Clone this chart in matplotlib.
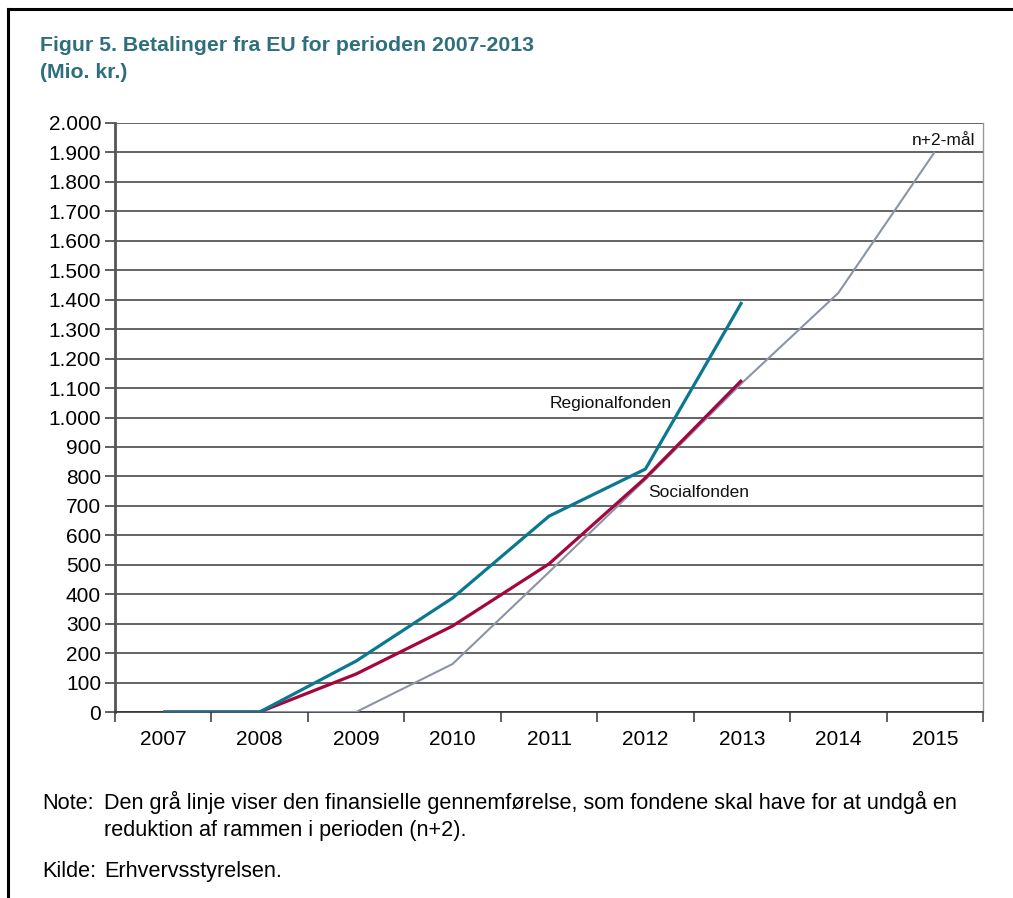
import matplotlib
matplotlib.use("Agg")
import matplotlib.pyplot as plt
from matplotlib.lines import Line2D
import numpy as np

years = ["2007", "2008", "2009", "2010", "2011", "2012", "2013", "2014", "2015"]
regional = [0, 0, 173, 387, 665, 825, 1392, np.nan, np.nan]
social = [0, 0, 129, 292, 503, 795, 1127, np.nan, np.nan]
n2_target = [0, 0, 0, 163, 475, 790, 1117, 1423, 1902]
yticks = list(range(0, 2001, 100))

title = "Figur 5. Betalinger fra EU for perioden 2007-2013\n(Mio. kr.)"
note1 = "Den grå linje viser den finansielle gennemførelse, som fondene skal have for at undgå en"
note2 = "reduktion af rammen i perioden (n+2)."
source = "Erhvervsstyrelsen."

plt.rcParams['font.family'] = ['Liberation Sans', 'DejaVu Sans']

W, H = 1013, 898
fig = plt.figure(figsize=(W / 100, H / 100), dpi=100)
ax = fig.add_axes([115 / W, (H - 712) / H, (983 - 115) / W, (712 - 123) / H])

x = np.arange(len(years))
c_reg = "#0B7891"
c_soc = "#A3073D"
c_gray = "#8B94A6"

ax.plot(x, n2_target, color=c_gray, lw=1.5, zorder=3, solid_capstyle='butt')
ax.plot(x, social, color=c_soc, lw=2.3, zorder=4, solid_capstyle='butt')
ax.plot(x, regional, color=c_reg, lw=2.3, zorder=5, solid_capstyle='butt')

ax.set_xlim(-0.5, len(years) - 0.5)
ax.set_ylim(0, 2000)
ax.set_yticks(yticks)
ax.set_yticklabels([f"{v:,}".replace(",", ".") for v in yticks], fontsize=15)
ax.set_xticks(x)
ax.set_xticklabels(years, fontsize=15)
ax.set_xticks(np.arange(-0.5, len(years), 1.0), minor=True)
ax.tick_params(axis='x', which='major', length=0, pad=13)
ax.tick_params(axis='x', which='minor', length=7, width=1.2, color="#444444", direction='out')
ax.tick_params(axis='y', which='major', length=7, width=1.2, color="#444444", direction='out', pad=3)

ax.grid(axis='y', color="#3a3a3a", lw=1.1, zorder=1)
ax.set_axisbelow(True)
ax.spines['top'].set_visible(False)
ax.spines['left'].set_color("#555555")
ax.spines['left'].set_linewidth(2.0)
ax.spines['bottom'].set_color("#333333")
ax.spines['bottom'].set_linewidth(1.2)
ax.spines['right'].set_color("#999999")
ax.spines['right'].set_linewidth(1.0)

ax.text(5.27, 1046, "Regionalfonden", fontsize=12.5, ha='right', va='center', color="#111111")
ax.text(5.03, 746, "Socialfonden", fontsize=12.5, ha='left', va='center', color="#111111")
ax.text(8.42, 1940, "n+2-mål", fontsize=12.5, ha='right', va='center', color="#111111",
        bbox=dict(facecolor='white', edgecolor='none', pad=1))

fig.text(40 / W, 1 - 36 / H, title, fontsize=15.3, fontweight='bold', color="#2E6F7D",
         ha='left', va='top', linespacing=1.5)

fs_note = 15.6
fig.text(42 / W, 1 - 809 / H, "Note:", fontsize=fs_note, ha='left', va='baseline')
fig.text(104 / W, 1 - 809 / H, note1, fontsize=fs_note, ha='left', va='baseline')
fig.text(104 / W, 1 - 836 / H, note2, fontsize=fs_note, ha='left', va='baseline')
fig.text(42 / W, 1 - 877 / H, "Kilde:", fontsize=fs_note, ha='left', va='baseline')
fig.text(104 / W, 1 - 877 / H, source, fontsize=fs_note, ha='left', va='baseline')

fig.add_artist(Line2D([8 / W, 1.0], [1 - 9 / H, 1 - 9 / H], color='black', lw=2.2, transform=fig.transFigure))
fig.add_artist(Line2D([8 / W, 8 / W], [1 - 9 / H, 0], color='black', lw=2.2, transform=fig.transFigure))

fig.savefig("out.png", dpi=100)
